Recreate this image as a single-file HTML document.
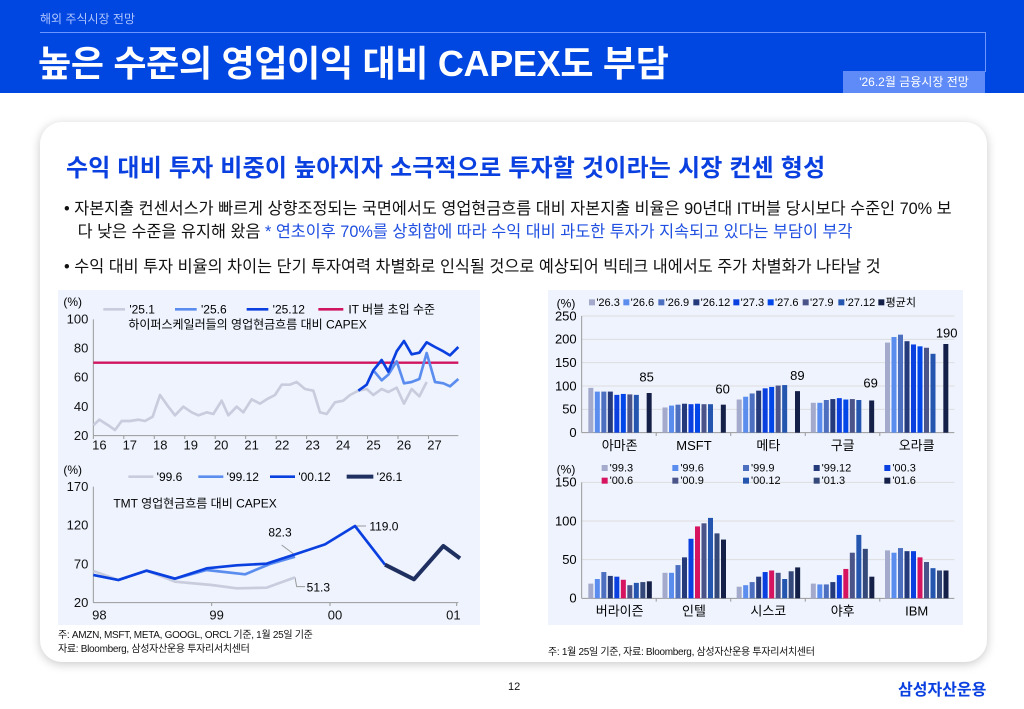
<!DOCTYPE html>
<html><head><meta charset="utf-8">
<style>
*{margin:0;padding:0;box-sizing:border-box}
body{width:1024px;height:709px;background:#fff;position:relative;overflow:hidden;font-family:"Liberation Sans","Noto Sans CJK KR",sans-serif;color:#111}
.abs{position:absolute;white-space:nowrap}
#hdr{position:absolute;left:0;top:0;width:1024px;height:93px;background:#0046E0}
#card{position:absolute;left:40px;top:122px;width:947px;height:540px;background:#fff;border-radius:22px;box-shadow:0 2px 10px rgba(0,0,0,.22)}
.panel{position:absolute;background:#EEF3FE}
</style></head><body>
<div id="hdr"></div>
<div class="abs" style="left:40px;top:10px;font-size:12px;color:#AFC5FF">해외 주식시장 전망</div>
<div class="abs" style="left:40px;top:32px;width:945px;height:1px;background:#6C95FF"></div>
<div class="abs" style="left:985px;top:32px;width:1px;height:40px;background:#6C95FF"></div>
<div class="abs" style="left:38px;top:35px;font-size:36px;color:#fff;font-weight:bold;letter-spacing:-0.3px">높은 수준의 영업이익 대비 CAPEX도 부담</div>
<div class="abs" style="left:843px;top:71px;width:142px;height:22px;background:#5E8BF7;color:#fff;font-size:12px;text-align:center;line-height:22px">'26.2월 금융시장 전망</div>
<div id="card"></div>
<div class="abs" style="left:66px;top:148px;font-size:24px;font-weight:bold;color:#0A40E0;letter-spacing:0.2px">수익 대비 투자 비중이 높아지자 소극적으로 투자할 것이라는 시장 컨센 형성</div>
<div class="abs" style="left:64px;top:198px;font-size:16.3px;line-height:23px">• 자본지출 컨센서스가 빠르게 상향조정되는 국면에서도 영업현금흐름 대비 자본지출 비율은 90년대 IT버블 당시보다 수준인 70% 보<br>&nbsp;&nbsp;&nbsp;다 낮은 수준을 유지해 왔음 <span style="color:#1F4FE0">* 연초이후 70%를 상회함에 따라 수익 대비 과도한 투자가 지속되고 있다는 부담이 부각</span></div>
<div class="abs" style="left:64px;top:253px;font-size:16.3px">• 수익 대비 투자 비율의 차이는 단기 투자여력 차별화로 인식될 것으로 예상되어 빅테크 내에서도 주가 차별화가 나타날 것</div>
<div class="panel" style="left:58px;top:290px;width:422px;height:335px"></div>
<div class="panel" style="left:548px;top:290px;width:415px;height:335px"></div>
<div class="abs" style="left:58px;top:629px;font-size:10px;line-height:14px;letter-spacing:-0.3px">주: AMZN, MSFT, META, GOOGL, ORCL 기준, 1월 25일 기준<br>자료: Bloomberg, 삼성자산운용 투자리서치센터</div>
<div class="abs" style="left:548px;top:643px;font-size:10px;letter-spacing:-0.3px">주: 1월 25일 기준, 자료: Bloomberg, 삼성자산운용 투자리서치센터</div>
<div class="abs" style="left:508px;top:681px;font-size:11px">12</div>
<div class="abs" style="left:898px;top:676px;font-size:16px;font-weight:bold;color:#0A40E0">삼성자산운용</div>

<svg class="abs" style="left:0;top:0" width="1024" height="709">
<svg x="60" y="290" width="420" height="170" viewBox="0 0 1260 510" font-family="Liberation Sans, Noto Sans CJK KR, sans-serif">
 <g stroke="#999" stroke-width="3"><line x1="100" y1="88" x2="100" y2="437"/><line x1="100" y1="437" x2="1195" y2="437"/></g>
 <g font-size="39" fill="#111" text-anchor="end"><text x="85" y="101">100</text><text x="85" y="188">80</text><text x="85" y="275">60</text><text x="85" y="363">40</text><text x="85" y="450">20</text></g>
 <g font-size="39" fill="#111" text-anchor="middle" id="yrs"></g>
 <text x="10" y="48" font-size="36">(%)</text>
 <g stroke-width="8"><line x1="130" y1="58" x2="195" y2="58" stroke="#C8CCDD"/><line x1="345" y1="58" x2="410" y2="58" stroke="#5B8DEF"/><line x1="560" y1="58" x2="625" y2="58" stroke="#0A3FE0"/><line x1="775" y1="58" x2="850" y2="58" stroke="#D0155E"/></g>
 <g font-size="36"><text x="208" y="71">'25.1</text><text x="423" y="71">'25.6</text><text x="638" y="71">'25.12</text><text x="865" y="71">IT 버블 초입 수준</text><text x="205" y="115">하이퍼스케일러들의 영업현금흐름 대비 CAPEX</text></g>
 <line x1="100" y1="218" x2="1195" y2="218" stroke="#D0155E" stroke-width="7"/>
 <g fill="none" stroke-width="8" stroke-linejoin="round">
 <polyline stroke="#C8CCDD" points="100,406 118,389 145,406 165,420 185,393 210,393 235,389 255,393 278,380 300,315 325,350 345,376 370,350 395,367 415,376 440,367 460,372 485,332 505,376 530,350 550,367 575,328 600,341 620,328 645,315 665,284 690,284 710,276 735,297 760,302 780,367 800,372 825,337 850,332 870,315 895,302 920,297 940,315 965,297 985,306 1010,293 1032,341 1055,297 1078,319 1100,276"/>
 <polyline stroke="#5B8DEF" points="940,241 965,271 985,254 1010,214 1032,280 1055,276 1078,267 1100,189 1125,276 1150,280 1170,289 1195,267"/>
 <polyline stroke="#0A3FE0" points="895,302 920,284 940,241 965,210 985,245 1010,184 1032,153 1055,193 1078,188 1100,157 1125,171 1150,184 1170,196 1195,171"/>
 </g>
</svg>
<svg x="60" y="460" width="420" height="170" viewBox="0 0 1260 510" font-family="Liberation Sans, Noto Sans CJK KR, sans-serif">
 <g stroke="#999" stroke-width="3"><line x1="100" y1="80" x2="100" y2="428"/><line x1="100" y1="428" x2="1195" y2="428"/>
 <line x1="455" y1="428" x2="455" y2="438"/><line x1="810" y1="428" x2="810" y2="438"/><line x1="1190" y1="428" x2="1190" y2="438"/></g>
 <g font-size="39" fill="#111" text-anchor="end"><text x="85" y="93">170</text><text x="85" y="209">120</text><text x="85" y="325">70</text><text x="85" y="441">20</text></g>
 <g font-size="39" fill="#111" text-anchor="middle"><text x="118" y="478">98</text><text x="470" y="478">99</text><text x="825" y="478">00</text><text x="1180" y="478">01</text></g>
 <text x="10" y="42" font-size="36">(%)</text>
 <g stroke-width="8"><line x1="205" y1="50" x2="280" y2="50" stroke="#C8CCDD"/><line x1="415" y1="50" x2="490" y2="50" stroke="#5B8DEF"/><line x1="630" y1="50" x2="705" y2="50" stroke="#0A3FE0"/><line x1="860" y1="50" x2="940" y2="50" stroke="#1E2F60" stroke-width="12"/></g>
 <g font-size="36"><text x="290" y="63">'99.6</text><text x="500" y="63">'99.12</text><text x="715" y="63">'00.12</text><text x="950" y="63">'26.1</text><text x="160" y="143">TMT 영업현금흐름 대비 CAPEX</text>
 <text x="625" y="230">82.3</text><text x="928" y="212">119.0</text><text x="740" y="395">51.3</text></g>
 <g stroke="#999" stroke-width="3" fill="none"><polyline points="665,255 705,285"/><polyline points="888,198 918,198"/><polyline points="705,352 710,380 735,380"/></g>
 <g fill="none" stroke-width="8" stroke-linejoin="round">
 <polyline stroke="#C8CCDD" points="100,333 175,360 260,332 345,365 455,375 530,385 620,383 705,352"/>
 <polyline stroke="#5B8DEF" points="100,345 175,360 260,332 345,356 440,330 555,343 630,312 705,290"/>
 <polyline stroke="#0A3FE0" points="100,345 175,360 260,332 345,356 440,325 530,316 620,311 705,283 795,253 885,198 975,314"/>
 <polyline stroke="#1E2F60" stroke-width="12" points="975,314 1062,358 1150,258 1200,295"/>
 </g>
</svg>
<svg x="545" y="290" width="420" height="170" viewBox="0 0 1260 510" font-family="Liberation Sans, Noto Sans CJK KR, sans-serif" id="b1">
 <g stroke="#ddd" stroke-width="3"><line x1="110" y1="358" x2="1228" y2="358"/><line x1="110" y1="288" x2="1228" y2="288"/><line x1="110" y1="218" x2="1228" y2="218"/><line x1="110" y1="148" x2="1228" y2="148"/><line x1="110" y1="78" x2="1228" y2="78"/></g>
 <g stroke="#999" stroke-width="3"><line x1="110" y1="78" x2="110" y2="428"/><line x1="110" y1="428" x2="1228" y2="428"/></g>
 <g font-size="39" text-anchor="end"><text x="95" y="441">0</text><text x="95" y="371">50</text><text x="95" y="301">100</text><text x="95" y="231">150</text><text x="95" y="161">200</text><text x="95" y="91">250</text></g>
 <text x="35" y="52" font-size="36">(%)</text>
 <g font-size="39" text-anchor="middle"><text x="224" y="480">아마존</text><text x="447" y="480">MSFT</text><text x="670" y="480">메타</text><text x="893" y="480">구글</text><text x="1115" y="480">오라클</text>
 <text x="305" y="275">85</text><text x="533" y="310">60</text><text x="757" y="270">89</text><text x="977" y="293">69</text><text x="1205" y="142">190</text></g>
</svg>
<svg x="545" y="455" width="420" height="170" viewBox="0 0 1260 510" font-family="Liberation Sans, Noto Sans CJK KR, sans-serif" id="b2">
 <g stroke="#ddd" stroke-width="3"><line x1="110" y1="314" x2="1228" y2="314"/><line x1="110" y1="198" x2="1228" y2="198"/><line x1="110" y1="82" x2="1228" y2="82"/></g>
 <g stroke="#999" stroke-width="3"><line x1="110" y1="82" x2="110" y2="430"/><line x1="110" y1="430" x2="1228" y2="430"/></g>
 <g font-size="39" text-anchor="end"><text x="95" y="443">0</text><text x="95" y="327">50</text><text x="95" y="211">100</text><text x="95" y="95">150</text></g>
 <text x="35" y="55" font-size="36">(%)</text>
 <g font-size="39" text-anchor="middle"><text x="224" y="482">버라이즌</text><text x="447" y="482">인텔</text><text x="670" y="482">시스코</text><text x="893" y="482">야후</text><text x="1115" y="482">IBM</text></g>
</svg>
</svg>
<script>
var NS="http://www.w3.org/2000/svg";
function el(p,t,a,txt){var e=document.createElementNS(NS,t);for(var k in a)e.setAttribute(k,a[k]);if(txt)e.textContent=txt;p.appendChild(e);return e;}
var yrs=document.getElementById('yrs');
for(var i=0;i<12;i++){var x=100+i*91.4;el(yrs,'text',{x:x+18,y:478},String(16+i));el(yrs.parentNode,'line',{x1:x,y1:437,x2:x,y2:447,stroke:'#999','stroke-width':3});}
var b1=document.getElementById('b1');
var c1=['#A3AACB','#5B8DEF','#4C6FC0','#243A7A','#0A3FE0','#0046E8','#4A5488','#2456B0'];
var n1=["'26.3","'26.6","'26.9","'26.12","'27.3","'27.6","'27.9","'27.12"];
var d1=[[96,88,88,88,81,83,82,81,85],[54,58,60,62,61,62,61,61,60],[71,77,84,90,95,98,101,102,89],[64,64,70,72,74,71,72,70,69],[193,205,210,196,189,185,182,169,190]];
for(var g=0;g<5;g++){var x0=130+g*222.5;for(var j=0;j<9;j++){var v=d1[g][j],h=v*1.4;var x=j<8?x0+j*19.5:x0+175;el(b1,'rect',{x:x,y:428-h,width:15,height:h,fill:j<8?c1[j]:'#142048'});}
 if(g>0)el(b1,'line',{x1:110+g*223.6,y1:428,x2:110+g*223.6,y2:438,stroke:'#999','stroke-width':3});}
var lx=[132,235,340,445,565,668,773,880,1000];
for(var j=0;j<9;j++){el(b1,'rect',{x:lx[j],y:28,width:18,height:18,fill:j<8?c1[j]:'#142048'});el(b1,'text',{x:lx[j]+22,y:48,'font-size':33},j<8?n1[j]:'평균치');}
var b2=document.getElementById('b2');
var c2=['#A3AACB','#5B8DEF','#4C6FC0','#243A7A','#0A3FE0','#D6145F','#4A5488','#2456B0','#34487A','#142048'];
var n2=["'99.3","'99.6","'99.9","'99.12","'00.3","'00.6","'00.9","'00.12","'01.3","'01.6"];
var d2=[[19,25,34,29,28,24,17,20,21,22],[33,33,43,53,77,93,97,104,84,76],[15,17,21,28,34,36,33,25,35,40],[19,18,18,21,30,38,59,82,64,28],[62,59,65,61,61,53,47,39,36,36]];
for(var g=0;g<5;g++){var x0=130+g*222.5;for(var j=0;j<10;j++){var h=d2[g][j]*2.32;el(b2,'rect',{x:x0+j*19.5,y:430-h,width:15,height:h,fill:c2[j]});}
 if(g>0)el(b2,'line',{x1:110+g*223.6,y1:430,x2:110+g*223.6,y2:440,stroke:'#999','stroke-width':3});}
for(var j=0;j<10;j++){var x=170+(j%5)*212,y=j<5?30:68;el(b2,'rect',{x:x,y:y,width:18,height:18,fill:c2[j]});el(b2,'text',{x:x+24,y:y+19,'font-size':33},n2[j]);}
</script>
</body></html>
